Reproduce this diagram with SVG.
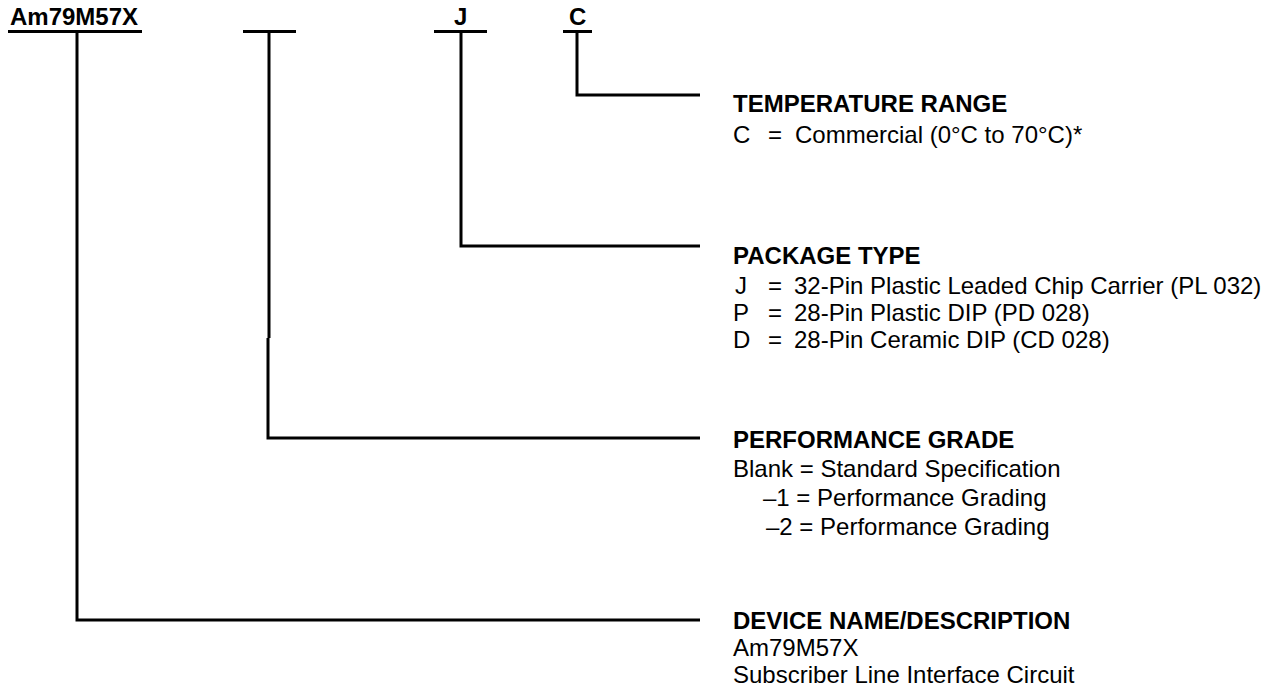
<svg xmlns="http://www.w3.org/2000/svg" width="1274" height="686" viewBox="0 0 1274 686">
<style>
.t{font-family:"Liberation Sans",Arial,sans-serif;fill:#000}
.h{font-size:24px;font-weight:bold}
.b{font-size:24px}
.top{font-size:24px;font-weight:bold}
.ln{stroke:#000;stroke-width:3;fill:none}
</style>
<rect width="1274" height="686" fill="#fff"/>
<g id="codes">
<text class="t top" x="10" y="25">Am79M57X</text>
<text class="t top" x="454" y="25">J</text>
<text class="t top" x="569" y="25">C</text>
</g>
<g id="connectors">
<path class="ln" d="M8 31.5H142M77 31.5V620H700"/>
<path class="ln" d="M243 31.5H296M269 31.5V338M268 338V438H700"/>
<path class="ln" d="M434 31.5H487M461 31.5V246H700"/>
<path class="ln" d="M563 31.5H592M577 31.5V95H700"/>
</g>
<g id="temperature">
<text class="t h" x="733" y="112">TEMPERATURE RANGE</text>
<text class="t b" y="143"><tspan x="733">C</tspan><tspan x="768">=</tspan><tspan x="795">Commercial (0°C to 70°C)*</tspan></text>
</g>
<g id="package">
<text class="t h" x="733" y="264">PACKAGE TYPE</text>
<text class="t b" y="294"><tspan x="735">J</tspan><tspan x="768">=</tspan><tspan x="794">32-Pin Plastic Leaded Chip Carrier (PL 032)</tspan></text>
<text class="t b" y="321"><tspan x="733">P</tspan><tspan x="768">=</tspan><tspan x="794">28-Pin Plastic DIP (PD 028)</tspan></text>
<text class="t b" y="348"><tspan x="733">D</tspan><tspan x="768">=</tspan><tspan x="794">28-Pin Ceramic DIP (CD 028)</tspan></text>
</g>
<g id="performance">
<text class="t h" x="733" y="448">PERFORMANCE GRADE</text>
<text class="t b" x="733" y="477">Blank = Standard Specification</text>
<text class="t b" x="763" y="506">–1 = Performance Grading</text>
<text class="t b" x="766" y="535">–2 = Performance Grading</text>
</g>
<g id="device">
<text class="t h" x="733" y="629">DEVICE NAME/DESCRIPTION</text>
<text class="t b" x="733" y="656">Am79M57X</text>
<text class="t b" x="733" y="683">Subscriber Line Interface Circuit</text>
</g>
</svg>
